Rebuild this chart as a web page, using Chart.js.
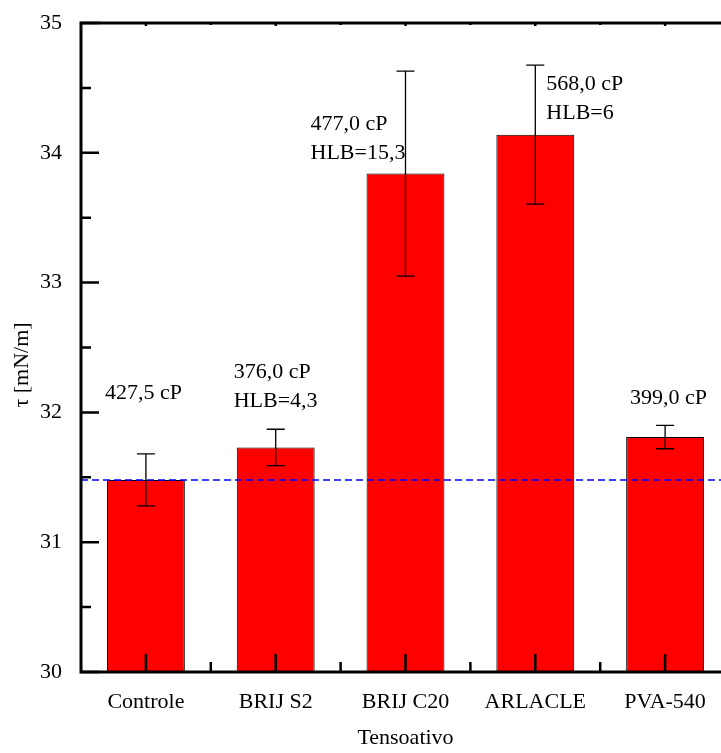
<!DOCTYPE html>
<html><head><meta charset="utf-8">
<script src="https://cdn.jsdelivr.net/npm/chart.js@4.4.1/dist/chart.umd.min.js"></script>
<style>html,body{margin:0;padding:0;overflow:hidden;background:#fff;width:721px;height:753px}#wrap{width:760px;height:753px}</style>
</head><body><div id="wrap"><canvas id="c" width="760" height="753"></canvas></div>
<script>
// ---- data ----
const categories = ['Controle', 'BRIJ S2', 'BRIJ C20', 'ARLACLE', 'PVA-540'];
const tensionValues = [31.48, 31.73, 33.84, 34.14, 31.81];
const tensionErrors = [0.20, 0.14, 0.79, 0.535, 0.09];
const viscosityLabels = ['427,5 cP', '376,0 cP', '477,0 cP', '568,0 cP', '399,0 cP'];
const hlbLabels = ['', 'HLB=4,3', 'HLB=15,3', 'HLB=6', ''];
const controlLevel = 31.48;
const yMajorTicks = [30, 31, 32, 33, 34, 35];
const yMinorTicks = [30.5, 31.5, 32.5, 33.5, 34.5];
const yTitle = 'τ [mN/m]';
const xTitle = 'Tensoativo';

// ---- label layout (px offsets from bar centre / top of error bar) ----
const labelDx = [-41, -42, -95, 11, -35];
const labelDy = [-61, -57, 53, 19, -27];
const lineGap = 29;

const FONT = '"Liberation Serif", "Times New Roman", serif';

const extras = {
  id: 'extras',
  afterDatasetsDraw(chart) {
    const {ctx, chartArea: ca, scales: {x, y}} = chart;
    const meta = chart.getDatasetMeta(0);
    ctx.save();
    // dashed control line
    ctx.strokeStyle = '#0000ff';
    ctx.lineWidth = 1.5;
    ctx.setLineDash([7, 4]);
    const yc = y.getPixelForValue(controlLevel);
    ctx.beginPath(); ctx.moveTo(ca.left, yc); ctx.lineTo(ca.right, yc); ctx.stroke();
    ctx.setLineDash([]);
    // error bars
    ctx.strokeStyle = '#000';
    ctx.lineWidth = 1.3;
    meta.data.forEach((bar, i) => {
      const cx = bar.x;
      const yt = y.getPixelForValue(tensionValues[i] + tensionErrors[i]);
      const yb = y.getPixelForValue(tensionValues[i] - tensionErrors[i]);
      ctx.beginPath();
      ctx.moveTo(cx, yt); ctx.lineTo(cx, yb);
      ctx.moveTo(cx - 9, yt); ctx.lineTo(cx + 9, yt);
      ctx.moveTo(cx - 9, yb); ctx.lineTo(cx + 9, yb);
      ctx.stroke();
    });
    // axes frame
    ctx.lineWidth = 3;
    ctx.beginPath();
    ctx.moveTo(ca.left, ca.top); ctx.lineTo(ca.right + 5, ca.top);
    ctx.moveTo(ca.left, ca.top - 1.5); ctx.lineTo(ca.left, ca.bottom + 1.5);
    ctx.moveTo(ca.left - 1.5, ca.bottom); ctx.lineTo(ca.right + 5, ca.bottom);
    ctx.stroke();
    // y ticks
    ctx.lineWidth = 2.5;
    ctx.beginPath();
    yMajorTicks.forEach(v => { const p = y.getPixelForValue(v); ctx.moveTo(ca.left, p); ctx.lineTo(ca.left + 18, p); });
    yMinorTicks.forEach(v => { const p = y.getPixelForValue(v); ctx.moveTo(ca.left, p); ctx.lineTo(ca.left + 10, p); });
    // x ticks
    categories.forEach((c, i) => {
      const p = x.getPixelForValue(i);
      ctx.moveTo(p, ca.bottom); ctx.lineTo(p, ca.bottom - 18);
      ctx.moveTo(p, ca.top); ctx.lineTo(p, ca.top + 3);
      if (i > 0) {
        const q = (x.getPixelForValue(i - 1) + p) / 2;
        ctx.moveTo(q, ca.bottom); ctx.lineTo(q, ca.bottom - 10);
        ctx.moveTo(q, ca.top); ctx.lineTo(q, ca.top + 2);
      }
    });
    ctx.stroke();
    // annotations
    ctx.fillStyle = '#000';
    ctx.font = '22px ' + FONT;
    ctx.textAlign = 'left';
    ctx.textBaseline = 'middle';
    meta.data.forEach((bar, i) => {
      const yt = y.getPixelForValue(tensionValues[i] + tensionErrors[i]);
      const tx = bar.x + labelDx[i];
      const ty = yt + labelDy[i];
      ctx.fillText(viscosityLabels[i], tx, ty);
      if (hlbLabels[i]) ctx.fillText(hlbLabels[i], tx, ty + lineGap);
    });
    // y title
    ctx.save();
    ctx.translate(22, 365);
    ctx.rotate(-Math.PI / 2);
    ctx.textAlign = 'center';
    ctx.fillText(yTitle, 0, 0);
    ctx.restore();
    ctx.restore();
  }
};

new Chart(document.getElementById('c'), {
  type: 'bar',
  data: {
    labels: categories,
    datasets: [{
      data: tensionValues,
      backgroundColor: '#ff0000',
      borderColor: '#000000',
      borderWidth: 1,
      borderSkipped: 'bottom',
      barPercentage: 0.6,
      categoryPercentage: 1.0
    }]
  },
  options: {
    responsive: false,
    animation: false,
    layout: {padding: {top: 23, right: 30, left: 0, bottom: 0}},
    plugins: {legend: {display: false}, tooltip: {enabled: false}},
    scales: {
      x: {
        grid: {display: false},
        border: {display: false},
        ticks: {color: '#000', font: {family: FONT, size: 22}, padding: 9, maxRotation: 0},
        title: {display: true, text: xTitle, color: '#000', font: {family: FONT, size: 22}, padding: {top: 0, bottom: 2}},
        afterFit(s) { s.height = 81; s.paddingLeft = 0; s.paddingRight = 0; }
      },
      y: {
        min: 30, max: 35,
        grid: {display: false},
        border: {display: false},
        ticks: {stepSize: 1, color: '#000', font: {family: FONT, size: 22}, padding: 11},
        afterFit(s) { s.width = 81; s.paddingTop = 0; s.paddingBottom = 0; }
      }
    }
  },
  plugins: [extras]
});
</script>
</body></html>
